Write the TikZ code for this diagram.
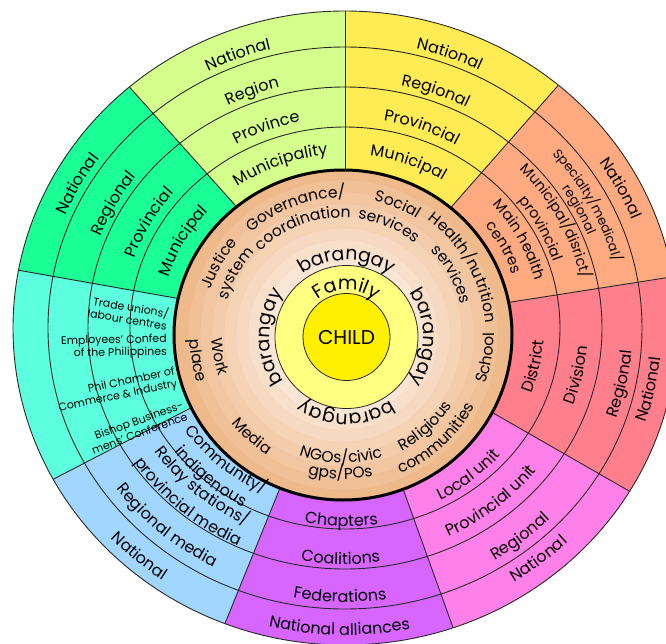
\documentclass[tikz,border=0pt]{standalone}
\usepackage{fontspec}
\setmainfont{Poppins}
\usetikzlibrary{decorations.text}
\definecolor{cGov}{RGB}{212,255,140}
\definecolor{cSoc}{RGB}{255,236,85}
\definecolor{cHea}{RGB}{255,170,128}
\definecolor{cSch}{RGB}{255,128,140}
\definecolor{cRel}{RGB}{255,128,232}
\definecolor{cNgo}{RGB}{214,102,255}
\definecolor{cMed}{RGB}{160,214,255}
\definecolor{cWrk}{RGB}{92,255,222}
\definecolor{cJus}{RGB}{26,255,150}
\definecolor{tanA}{RGB}{238,186,140}
\definecolor{tanB}{RGB}{250,230,214}
\definecolor{cFam}{RGB}{255,255,128}
\definecolor{cChild}{RGB}{255,240,0}
\definecolor{lineC}{RGB}{40,40,40}
\def\myyf{0.945}
\newcommand\arcT[5]{%
  \pgfmathsetmacro\myas{#2+#3}%
  \pgfmathsetmacro\myae{#2-#3}%
  \pgfmathsetmacro\myry{\myyf*#1}%
  \path[decorate,decoration={text along path,text align=center,
    text={|\fontsize{#4}{#4}\selectfont|#5}}]
    (\myas:#1 and \myry) arc[start angle=\myas,end angle=\myae,x radius=#1,y radius=\myry];}
\newcommand\arcB[5]{%
  \pgfmathsetmacro\myas{#2-#3}%
  \pgfmathsetmacro\myae{#2+#3}%
  \pgfmathsetmacro\myry{\myyf*#1}%
  \path[decorate,decoration={text along path,text align=center,
    text={|\fontsize{#4}{#4}\selectfont|#5}}]
    (\myas:#1 and \myry) arc[start angle=\myas,end angle=\myae,x radius=#1,y radius=\myry];}
\newcommand\mysector[3]{\fill[#3] (0,0) -- (#1:332 and 317) arc[start angle=#1,end angle=#2,x radius=332,y radius=317] -- cycle;}
\begin{document}
\begin{tikzpicture}[x=1pt,y=1pt,
  ringline/.style={draw=lineC,line width=0.9pt},
  wp/.style={font=\fontsize{11}{12.5}\selectfont,align=right,inner sep=0pt}]
\useasboundingbox (-345,-315) rectangle (321,328);
\fill[white] (-345,-315) rectangle (321,328);
\clip (-345,-315) rectangle (321,328);
% sectors
\mysector{130.5}{169.5}{cJus}
\mysector{90}{130.5}{cGov}
\mysector{50}{90}{cSoc}
\mysector{9.3}{50}{cHea}
\mysector{-31}{9.3}{cSch}
\mysector{-71}{-31}{cRel}
\mysector{-111.2}{-71}{cNgo}
\mysector{-151.5}{-111.2}{cMed}
\mysector{169.5}{208.5}{cWrk}
% rings
\draw[ringline] (0,0) ellipse [x radius=215,y radius=201];
\draw[ringline] (0,0) ellipse [x radius=257,y radius=241];
\draw[ringline] (0,0) ellipse [x radius=297,y radius=281];
\draw[ringline] (0,0) ellipse [x radius=332,y radius=317];
\foreach \a in {90,50,9.3,-31,-71,-111.2,-151.5,169.5,130.5}
  \draw[ringline] (0,0) -- (\a:332 and 317);
% tan disc
\begin{scope}[shift={(-2,-7)}]
  \fill[tanA] (0,0) ellipse [x radius=169,y radius=165];
  \foreach \r/\p in {155/14,143/28,131/42,119/56,107/70,95/84,83/100}
    \filldraw[fill=tanB!\p!tanA,draw=tanB!\p!tanA!94!red,line width=0.4pt] (0,0) circle (\r);
  \draw[line width=3pt] (0,0) ellipse [x radius=169,y radius=165];
  \def\myyf{1}
  \arcT{137.5}{110.5}{35}{15.5}{Governance/}
  \arcT{117.5}{110.5}{35}{15.5}{coordination}
  \arcT{137.5}{67.3}{30}{15.5}{Social}
  \arcT{117}{67.3}{30}{15.5}{services}
  \arcT{143}{29.2}{35}{15.5}{Health/nutrition}
  \arcT{122}{29.2}{35}{15.5}{services}
  \arcT{140}{150}{30}{15.5}{Justice}
  \arcT{121}{150}{30}{15.5}{system}
  \arcB{151}{-9}{25}{15.5}{School}
  \arcB{130}{-48}{30}{15.5}{Religious}
  \arcB{150}{-48}{30}{15.5}{communities}
  \arcB{128}{-91}{30}{15.5}{NGOs/civic}
  \arcB{144}{-91}{30}{15.5}{gps/POs}
  \arcB{142}{-132}{25}{15.5}{Media}
  \arcB{131}{190}{25}{15.5}{Work}
  \arcB{153}{190}{25}{15.5}{place}
\end{scope}
% family and child
\begin{scope}[shift={(1.5,-9)}]
  \def\myyf{1}
  \filldraw[fill=cFam,draw=lineC,line width=0.8pt] (0,0) circle (71.5);
  \filldraw[fill=cChild,draw=lineC,line width=0.8pt] (0,0) circle (43.5);
  \node[font=\fontsize{20}{20}\selectfont] (child) at (0,0) {CHILD};
  \arcT{47}{90}{60}{19}{Family}
  \arcT{77}{90}{45}{19}{barangay}
  \arcT{77}{0}{45}{19}{barangay}
  \arcT{77}{-90}{45}{19}{barangay}
  \arcT{77}{180}{45}{19}{barangay}
\end{scope}
% outer ring texts: top style
\arcT{304}{110.5}{19}{16}{National}
\arcT{263}{110.5}{19}{16}{Region}
\arcT{223}{110.5}{19}{16}{Province}
\arcT{184}{110.5}{19}{16}{Municipality}
\arcT{304}{70}{19}{16}{National}
\arcT{263}{70}{19}{16}{Regional}
\arcT{223}{70}{19}{16}{Provincial}
\arcT{184}{70}{19}{16}{Municipal}
\arcT{304}{150.5}{19}{16}{National}
\arcT{263}{150.5}{19}{16}{Regional}
\arcT{223}{150.5}{19}{16}{Provincial}
\arcT{184}{150.5}{19}{16}{Municipal}
\arcT{309}{28}{19}{16}{National}
\arcT{277}{28}{19}{13}{Specialty/medical/}
\arcT{262}{28}{19}{13}{regional}
\arcT{242}{28}{19}{14.5}{Municipal/disrict/}
\arcT{220}{28}{19}{14.5}{provincial}
\arcT{197}{28}{19}{15}{Main health}
\arcT{177}{28}{19}{15}{centres}
% bottom style
\arcB{199}{-12}{19}{16}{District}
\arcB{243}{-12}{19}{16}{Division}
\arcB{288}{-12}{19}{16}{Regional}
\arcB{317}{-12}{19}{16}{National}
\arcB{206}{-51.5}{19}{16}{Local unit}
\arcB{244}{-51.5}{19}{16}{Provincial unit}
\arcB{288}{-51.5}{19}{16}{Regional}
\arcB{318}{-51.5}{19}{16}{National}
\arcB{210}{-91}{19}{16}{Chapters}
\arcB{250}{-91}{19}{16}{Coalitions}
\arcB{290}{-91}{19}{16}{Federations}
\arcB{325}{-91}{19}{16}{National alliances}
\arcB{193}{-130.5}{19}{16}{Community/}
\arcB{215}{-130.5}{19}{16}{indigenous}
\arcB{231}{-130.5}{19}{16}{Relay stations/}
\arcB{254}{-130.5}{19}{16}{provincial media}
\arcB{285}{-130.5}{19}{16}{Regional media}
\arcB{323}{-130.5}{19}{16}{National}
% workplace texts
\node[wp,rotate=-9.5,anchor=east] (trade) at (-177,9) {Trade unions/\\labour centres};
\node[wp,rotate=1,anchor=east] (empl) at (-178,-18) {Employees' Confed\\of the Philippines};
\node[wp,rotate=11.7,anchor=east] (phil) at (-169,-50) {Phil Chamber of\\Commerce \& Industry};
\node[wp,rotate=20,anchor=east] (bish) at (-160,-82) {Bishop Business-\\mens' Conference};
\end{tikzpicture}
\end{document}
